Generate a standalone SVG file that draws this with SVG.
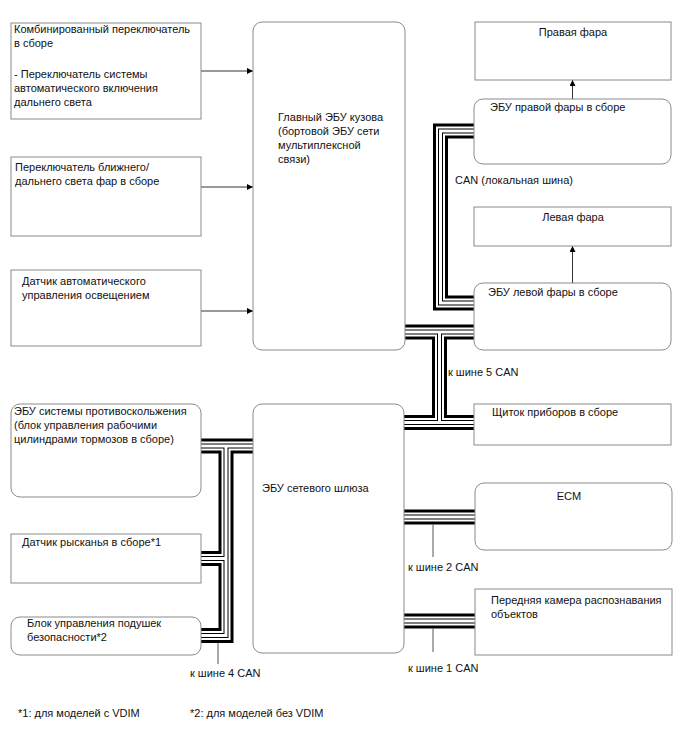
<svg xmlns="http://www.w3.org/2000/svg" xmlns:xlink="http://www.w3.org/1999/xlink" width="688" height="755" viewBox="0 0 688 755">
<style>
  .box{fill:#fff;stroke:#8a8a8a;stroke-width:1}
  .t{font-family:"Liberation Sans",Arial,sans-serif;font-size:11px;fill:#111}
  .tc{text-anchor:middle}
  .arr{stroke:#333;stroke-width:1;fill:none;marker-end:url(#ah)}
  .lead{stroke:#555;stroke-width:1;fill:none}
  .b1{stroke:#000;stroke-width:15;fill:none;stroke-linejoin:miter}
  .b2{stroke:#fff;stroke-width:9;fill:none;stroke-linejoin:miter}
  .b3{stroke:#000;stroke-width:5;fill:none;stroke-linejoin:miter}
  .b4{stroke:#fff;stroke-width:3;fill:none;stroke-linejoin:miter}
</style>
<defs>
  <marker id="ah" viewBox="0 0 10 10" refX="10" refY="5" markerWidth="9" markerHeight="6" markerUnits="userSpaceOnUse" orient="auto">
    <path d="M0,0 L10,5 L0,10 z" fill="#000"/>
  </marker>
  <g id="busR">
    <path d="M405,332 H474"/>
    <path d="M439.5,332 V422.5"/>
    <path d="M404,422.5 H474"/>
  </g>
  <g id="busLocal">
    <path d="M474,131 H440.5 V303 H474"/>
  </g>
  <g id="busL">
    <path d="M201,446 H253"/>
    <path d="M226,446 V635.5 H201"/>
    <path d="M201,558.5 H226"/>
  </g>
  <g id="busECM">
    <path d="M404,517 H475"/>
  </g>
  <g id="busCam">
    <path d="M404,621 H475"/>
  </g>
</defs>

<g id="connectors">
  <path class="arr" d="M201,71 H253"/>
  <path class="arr" d="M201,187 H253"/>
  <path class="arr" d="M201,311 H253"/>
  <path class="arr" d="M572.5,99 V80"/>
  <path class="arr" d="M572.5,283 V246"/>
  <g id="can-buses">
    <use href="#busR" class="b1"/><use href="#busR" class="b2"/><use href="#busR" class="b3"/><use href="#busR" class="b4"/>
    <use href="#busLocal" class="b1"/><use href="#busLocal" class="b2"/><use href="#busLocal" class="b3"/><use href="#busLocal" class="b4"/>
    <use href="#busL" class="b1"/><use href="#busL" class="b2"/><use href="#busL" class="b3"/><use href="#busL" class="b4"/>
    <use href="#busECM" class="b1"/><use href="#busECM" class="b2"/><use href="#busECM" class="b3"/><use href="#busECM" class="b4"/>
    <use href="#busCam" class="b1"/><use href="#busCam" class="b2"/><use href="#busCam" class="b3"/><use href="#busCam" class="b4"/>
  </g>
  <path class="lead" d="M433,524.5 V557"/>
  <path class="lead" d="M433,628.5 V652"/>
  <path class="lead" d="M218,643 V664"/>
  <text class="t" x="455" y="184">CAN (локальная шина)</text>
  <text class="t" x="448" y="376">к шине 5 CAN</text>
  <text class="t" x="408" y="571">к шине 2 CAN</text>
  <text class="t" x="408" y="672">к шине 1 CAN</text>
  <text class="t" x="190" y="677">к шине 4 CAN</text>
</g>

<g id="combo-switch">
  <rect class="box" x="11" y="23" width="190" height="96"/>
  <text class="t" x="14" y="33">Комбинированный переключатель</text>
  <text class="t" x="14" y="47">в сборе</text>
  <text class="t" x="14" y="78">- Переключатель системы</text>
  <text class="t" x="14" y="92">автоматического включения</text>
  <text class="t" x="14" y="106">дальнего света</text>
</g>
<g id="dimmer-switch">
  <rect class="box" x="11" y="157" width="190" height="79"/>
  <text class="t" x="15" y="171">Переключатель ближнего/</text>
  <text class="t" x="15" y="185">дальнего света фар в сборе</text>
</g>
<g id="light-sensor">
  <rect class="box" x="11" y="270" width="190" height="76"/>
  <text class="t" x="22" y="285">Датчик автоматического</text>
  <text class="t" x="22" y="299">управления освещением</text>
</g>
<g id="main-body-ecu">
  <rect class="box" x="253" y="22" width="152" height="328" rx="9"/>
  <text class="t" x="278" y="121">Главный ЭБУ кузова</text>
  <text class="t" x="278" y="135">(бортовой ЭБУ сети</text>
  <text class="t" x="278" y="149">мультиплексной</text>
  <text class="t" x="278" y="163">связи)</text>
</g>
<g id="right-headlight">
  <rect class="box" x="475" y="22" width="196" height="58"/>
  <text class="t tc" x="573" y="36">Правая фара</text>
</g>
<g id="right-headlight-ecu">
  <rect class="box" x="474" y="99" width="197" height="65" rx="9"/>
  <text class="t" x="490" y="111">ЭБУ правой фары в сборе</text>
</g>
<g id="left-headlight">
  <rect class="box" x="474" y="207" width="197" height="39"/>
  <text class="t tc" x="573" y="221">Левая фара</text>
</g>
<g id="left-headlight-ecu">
  <rect class="box" x="474" y="283" width="197" height="67" rx="9"/>
  <text class="t" x="488" y="296">ЭБУ левой фары в сборе</text>
</g>
<g id="combination-meter">
  <rect class="box" x="474" y="404" width="197" height="41"/>
  <text class="t" x="492" y="416">Щиток приборов в сборе</text>
</g>
<g id="gateway-ecu">
  <rect class="box" x="253" y="404" width="151" height="249" rx="9"/>
  <text class="t" x="262" y="492">ЭБУ сетевого шлюза</text>
</g>
<g id="ecm">
  <rect class="box" x="475" y="483" width="197" height="67" rx="9"/>
  <text class="t tc" x="569" y="500">ECM</text>
</g>
<g id="front-camera">
  <rect class="box" x="475" y="589" width="197" height="66"/>
  <text class="t" x="491" y="604">Передняя камера распознавания</text>
  <text class="t" x="491" y="618">объектов</text>
</g>
<g id="skid-control-ecu">
  <rect class="box" x="11" y="404" width="190" height="93" rx="9"/>
  <text class="t" x="14" y="415">ЭБУ системы противоскольжения</text>
  <text class="t" x="14" y="429">(блок управления рабочими</text>
  <text class="t" x="14" y="443">цилиндрами тормозов в сборе)</text>
</g>
<g id="yaw-sensor">
  <rect class="box" x="11" y="534" width="190" height="49"/>
  <text class="t" x="22" y="546">Датчик рысканья в сборе*1</text>
</g>
<g id="airbag-ecu">
  <rect class="box" x="11" y="617" width="190" height="38" rx="9"/>
  <text class="t" x="27" y="627">Блок управления подушек</text>
  <text class="t" x="27" y="641">безопасности*2</text>
</g>
<g id="footnotes">
  <text class="t" x="18" y="717">*1: для моделей с VDIM</text>
  <text class="t" x="190" y="717">*2: для моделей без VDIM</text>
</g>
</svg>
